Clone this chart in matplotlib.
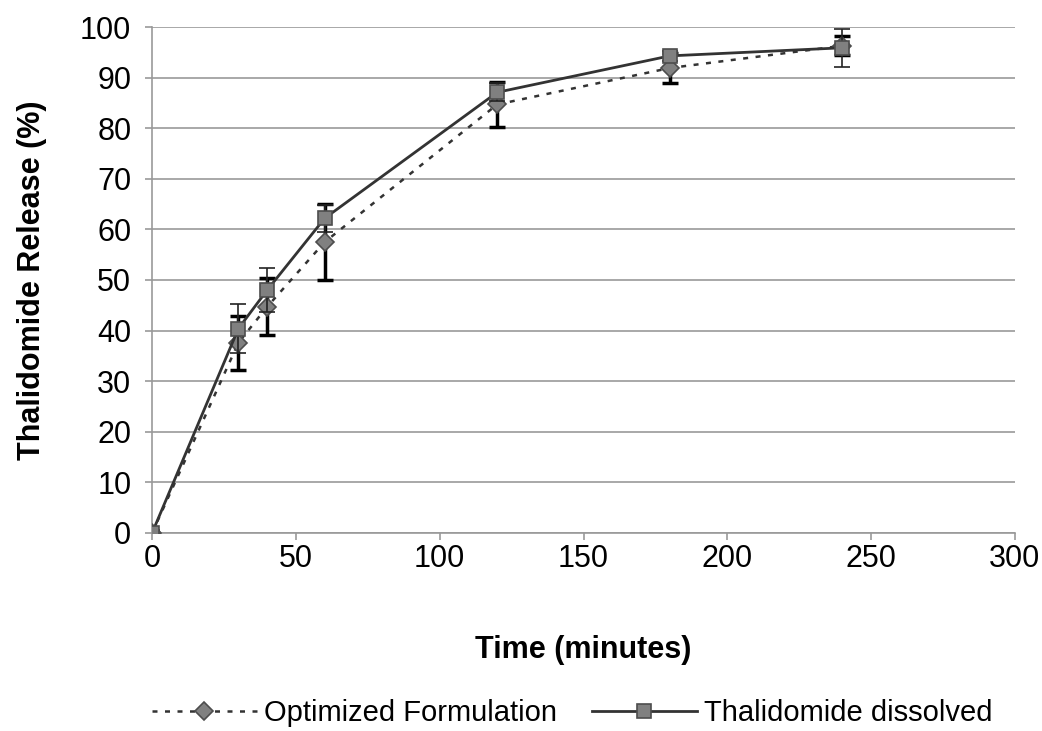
import matplotlib
matplotlib.use("Agg")
import matplotlib.pyplot as plt

plt.rcParams['font.family'] = ['Liberation Sans', 'DejaVu Sans']

time_min = [0, 30, 40, 60, 120, 180, 240]
optimized = [0, 37.6, 44.7, 57.5, 84.7, 91.9, 96.3]
optimized_err = [0, 5.3, 5.6, 7.6, 4.5, 2.9, 1.9]
dissolved = [0, 40.4, 48.0, 62.2, 87.1, 94.3, 95.9]
dissolved_err = [0.5, 4.9, 4.3, 2.7, 1.8, 1.0, 3.7]

fig = plt.figure(figsize=(10.42, 7.31), dpi=100)
ax = fig.add_axes([0.146, 0.271, 0.828, 0.692])

ax.errorbar(time_min, optimized, yerr=optimized_err, fmt='none', ecolor='black',
            elinewidth=2.5, capsize=6, capthick=2.5, zorder=2)
ax.plot(time_min, optimized, linestyle=(0, (2, 3)), color='#333333', linewidth=1.8,
        marker='D', markersize=9, markerfacecolor='#808080', markeredgecolor='#4d4d4d',
        markeredgewidth=1.2, zorder=3, label='Optimized Formulation')
ax.errorbar(time_min, dissolved, yerr=dissolved_err, fmt='none', ecolor='#222222',
            elinewidth=1.2, capsize=6, capthick=1.2, zorder=4)
ax.plot(time_min, dissolved, linestyle='-', color='#333333', linewidth=2,
        marker='s', markersize=10, markerfacecolor='#808080', markeredgecolor='#4d4d4d',
        markeredgewidth=1.2, zorder=5, label='Thalidomide dissolved')

ax.set_xlim(0, 300)
ax.set_ylim(0, 100)
ax.set_xticks(range(0, 301, 50))
ax.set_yticks(range(0, 101, 10))
ax.yaxis.grid(True, color='#999999', linewidth=1.2)
ax.set_axisbelow(True)
for s in ['top', 'right']:
    ax.spines[s].set_visible(False)
for s in ['left', 'bottom']:
    ax.spines[s].set_color('#999999')
    ax.spines[s].set_linewidth(1.2)
ax.tick_params(axis='both', labelsize=22, color='#999999', length=5, width=1.2,
               direction='out')
ax.tick_params(axis='x', pad=3)
ax.tick_params(axis='y', pad=10)

ax.set_xlabel('Time (minutes)', fontsize=22, fontweight='bold', labelpad=44)
ax.set_ylabel('Thalidomide Release (%)', fontsize=22, fontweight='bold', labelpad=24)

fig.legend(loc='center', bbox_to_anchor=(0.549, 0.025), ncol=2, frameon=False,
           fontsize=21, handlelength=3.6, columnspacing=1.2, handletextpad=0.25)

fig.savefig('out.png', dpi=100)
